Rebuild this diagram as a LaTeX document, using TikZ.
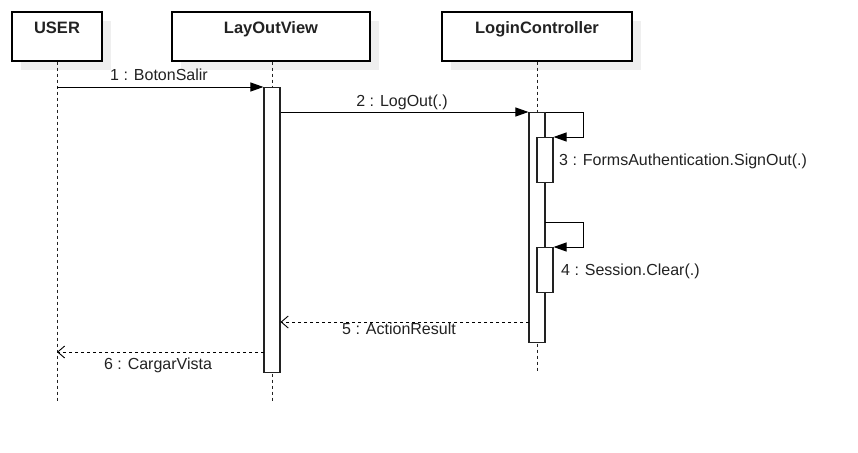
\documentclass[tikz,border=0pt]{standalone}
\usepackage{fontspec}
\setmainfont{Liberation Sans}
\usetikzlibrary{arrows.meta,calc}
\definecolor{shadowgray}{HTML}{EFEFEF}
\definecolor{ink}{HTML}{222222}
\begin{document}
\begin{tikzpicture}[x=1pt,y=-1pt,
  objbox/.style={draw=black,line width=1.2pt,fill=white,minimum width=#1,minimum height=49pt,inner sep=0pt},
  shadowbox/.style={fill=shadowgray,draw=none},
  title/.style={font=\fontsize{16.5}{19}\selectfont\bfseries,text=ink,anchor=base,inner sep=0pt},
  lbl/.style={font=\fontsize{16}{19}\selectfont,text=ink,anchor=base,inner sep=0pt},
  lifeline/.style={draw=ink,line width=1pt,dash pattern=on 3pt off 3pt},
  actbox/.style={draw=ink,line width=1.1pt,fill=white,minimum width=16pt,minimum height=#1,inner sep=0pt,anchor=north},
  call/.style={draw=black,line width=1pt,-{Triangle[length=13pt,width=9pt]}},
  reply/.style={draw=black,line width=1pt,dash pattern=on 3pt off 3pt,-{Straight Barb[length=7pt,width=12pt,line width=0.9pt]}},
]
\useasboundingbox (0,0) rectangle (858,452);

% shadows
\fill[shadowgray] (21,21) rectangle (111,70);
\fill[shadowgray] (181,21) rectangle (379,70);
\fill[shadowgray] (451,21) rectangle (641,70);

% objects
\node[objbox=90pt] (user) at (57,36.5) {};
\node[objbox=198pt] (view) at (271,36.5) {};
\node[objbox=190pt] (ctrl) at (537,36.5) {};
\node[title] (userT) at (57,34) {USER};
\node[title] (viewT) at (271,34) {LayOutView};
\node[title] (ctrlT) at (537,34) {LoginController};

% lifelines
\coordinate (userEnd) at (57,402);
\coordinate (viewEnd) at (272,402);
\coordinate (ctrlEnd) at (537,373);
\draw[lifeline] (user.south) -- (userEnd);
\draw[lifeline] (view.south -| viewEnd) -- (viewEnd);
\draw[lifeline] (ctrl.south) -- (ctrlEnd);

% activations
\node[actbox=285pt] (actV) at (272,87) {};
\node[actbox=230pt] (actC) at (537,112) {};
\node[actbox=45pt] (act3) at (545,137) {};
\node[actbox=45pt] (act4) at (545,247) {};

% message 1
\coordinate (m1) at (57,87);
\draw[call] (m1) -- (actV.north west);
\node[lbl] (l1) at (159,80.5) {1 : BotonSalir};

% message 2
\coordinate (m2) at (actV.east |- actC.north);
\draw[call] (m2) -- (actC.north west);
\node[lbl] (l2) at (402,106.5) {2 : LogOut(.)};

% message 3 (self call)
\draw[call] (actC.north east) -- ++(38,0) |- (act3.north east);
\node[lbl,anchor=base west] (l3) at (559,165) {3 : FormsAuthentication.SignOut(.)};

% message 4 (self call)
\coordinate (m4) at (545,222);
\draw[call] (m4) -- ++(38,0) |- (act4.north east);
\node[lbl,anchor=base west] (l4) at (561,275) {4 : Session.Clear(.)};

% message 5 (reply)
\coordinate (m5) at (529,322);
\draw[reply] (m5) -- (actV.east |- m5);
\node[lbl] (l5) at (399,334.5) {5 : ActionResult};

% message 6 (reply)
\coordinate (m6) at (264,352);
\draw[reply] (m6) -- (user.south |- m6);
\node[lbl] (l6) at (158,369) {6 : CargarVista};
\end{tikzpicture}
\end{document}
